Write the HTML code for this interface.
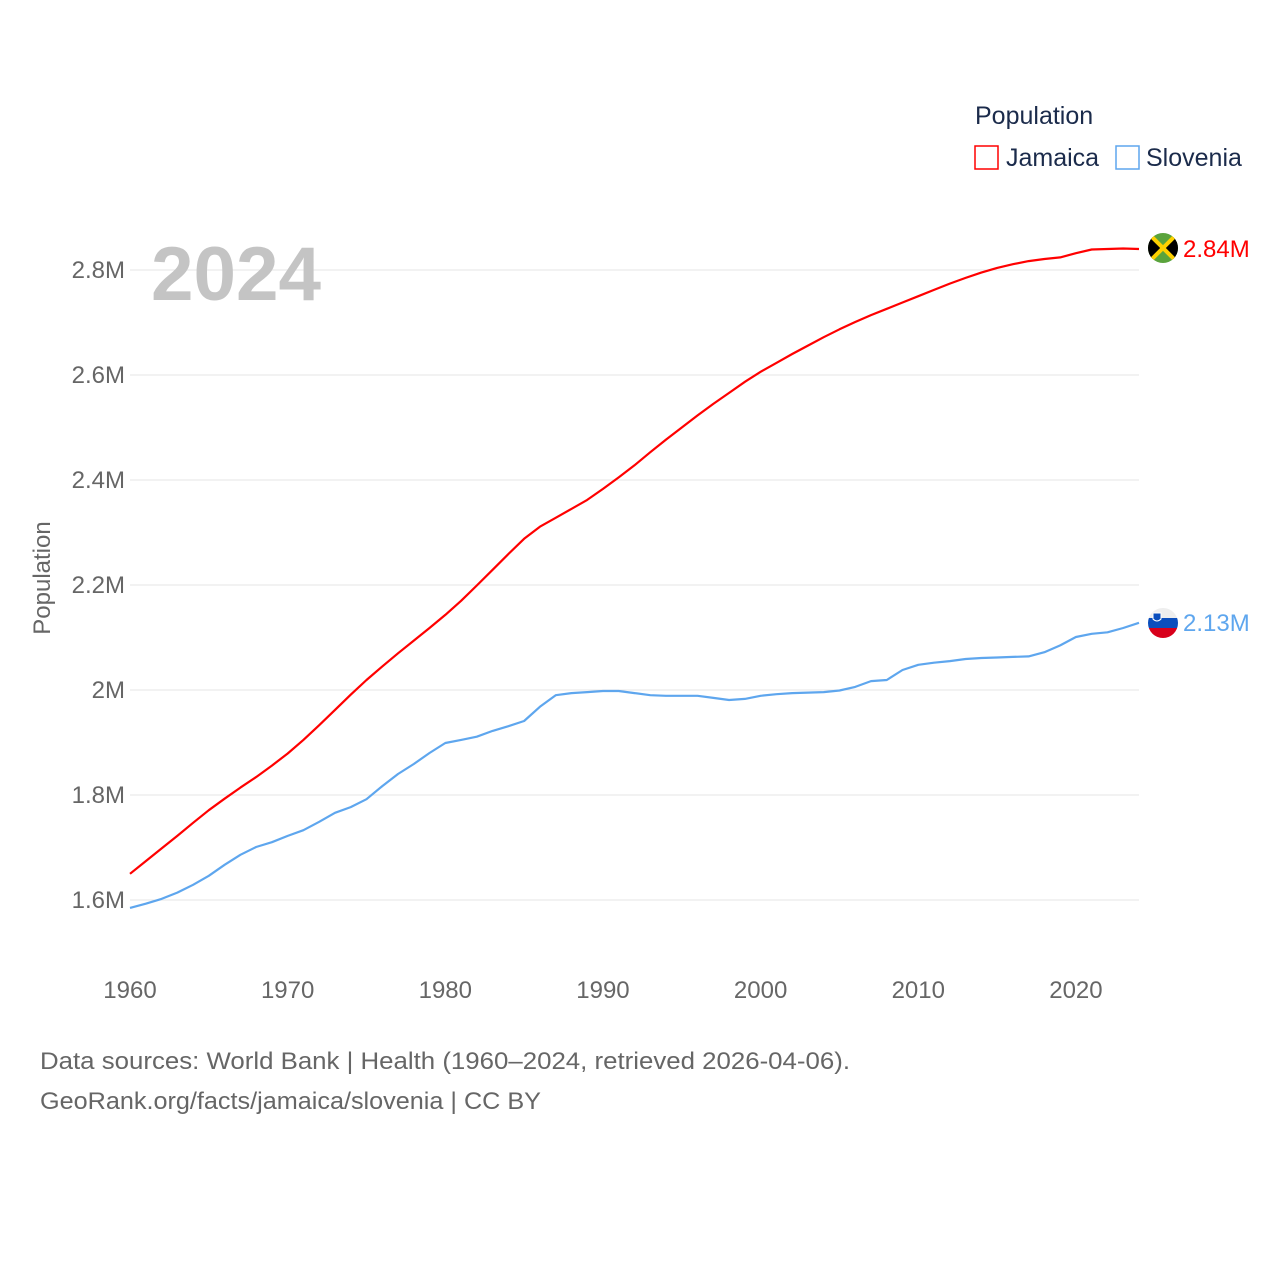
<!DOCTYPE html>
<html><head><meta charset="utf-8"><style>
body{margin:0;background:#fff;font-family:"Liberation Sans",sans-serif;}
svg text{font-family:"Liberation Sans",sans-serif;}
</style></head><body>
<svg id="chart" width="1280" height="1280" xmlns="http://www.w3.org/2000/svg">
<g id="grid"></g>
<g id="yticks"></g>
<g id="xticks"></g>
<text x="151" y="300" font-size="76" font-weight="bold" fill="#c4c4c4" textLength="170" lengthAdjust="spacingAndGlyphs">2024</text>
<text transform="translate(50,578) rotate(-90)" font-size="24" fill="#666" text-anchor="middle">Population</text>
<g id="series"></g>
<text x="975" y="124" font-size="25" fill="#1b2b4b">Population</text>
<g>
<rect x="975" y="146" width="23" height="23" fill="none" stroke="#ff0000" stroke-width="1.5"/>
<text x="1006" y="166" font-size="25" fill="#1b2b4b">Jamaica</text></g>
<g>
<rect x="1116" y="146" width="23" height="23" fill="none" stroke="#5ea6ee" stroke-width="1.5"/>
<text x="1146" y="166" font-size="25" fill="#1b2b4b">Slovenia</text></g>
<text x="40" y="1069" font-size="24" fill="#666" textLength="810" lengthAdjust="spacingAndGlyphs">Data sources: World Bank | Health (1960–2024, retrieved 2026-04-06).</text>
<text x="40" y="1109" font-size="24" fill="#666" textLength="501" lengthAdjust="spacingAndGlyphs">GeoRank.org/facts/jamaica/slovenia | CC BY</text>
<defs>
<clipPath id="c1"><circle cx="1163" cy="248" r="15"/></clipPath>
<clipPath id="c2"><circle cx="1163" cy="623" r="15"/></clipPath>
</defs>
</svg>
<script>
const years=[];for(let y=1960;y<=2024;y++)years.push(y);
const jamaica=[1.650,1.674,1.698,1.722,1.747,1.771,1.793,1.814,1.834,1.856,1.879,1.905,1.933,1.962,1.991,2.019,2.045,2.070,2.094,2.118,2.143,2.170,2.199,2.229,2.259,2.288,2.311,2.328,2.345,2.362,2.383,2.405,2.428,2.453,2.477,2.500,2.523,2.545,2.566,2.587,2.606,2.623,2.640,2.656,2.672,2.687,2.701,2.714,2.726,2.738,2.750,2.762,2.774,2.785,2.795,2.804,2.811,2.817,2.821,2.824,2.832,2.839,2.840,2.841,2.840];
const slovenia=[1.585,1.593,1.602,1.614,1.629,1.646,1.667,1.686,1.701,1.710,1.722,1.733,1.749,1.766,1.777,1.792,1.817,1.840,1.859,1.880,1.899,1.905,1.911,1.922,1.931,1.941,1.968,1.990,1.994,1.996,1.998,1.998,1.994,1.990,1.989,1.989,1.989,1.985,1.981,1.983,1.989,1.992,1.994,1.995,1.996,1.999,2.006,2.017,2.019,2.038,2.048,2.052,2.055,2.059,2.061,2.062,2.063,2.064,2.072,2.085,2.101,2.107,2.110,2.118,2.128];
const yTicks=[1.6,1.8,2.0,2.2,2.4,2.6,2.8];
const yTickLabels=["1.6M","1.8M","2M","2.2M","2.4M","2.6M","2.8M"];
const xTicks=[1960,1970,1980,1990,2000,2010,2020];
const endLabels=["2.84M","2.13M"];
const NS="http://www.w3.org/2000/svg";
const X=v=>130+(v-1960)*(1139-130)/64;
const Y=v=>270+(2.8-v)*525;
function mk(t,a,p){const e=document.createElementNS(NS,t);for(const k in a)e.setAttribute(k,a[k]);p.appendChild(e);return e;}
const grid=document.getElementById('grid'),yt=document.getElementById('yticks'),xt=document.getElementById('xticks'),se=document.getElementById('series');
yTicks.forEach((v,i)=>{
 const l=mk('line',{x1:130,x2:1139,y1:Y(v),y2:Y(v),stroke:'#e6e6e6','stroke-width':1},grid);
 
 
 const t=mk('text',{x:125,y:Y(v)+8,'font-size':24,fill:'#666','text-anchor':'end'},yt);
 t.textContent=yTickLabels[i];
 
 
});
xTicks.forEach(v=>{
 const t=mk('text',{x:X(v),y:998,'font-size':24,fill:'#666','text-anchor':'middle'},xt);
 t.textContent=v;
 
 
});
function line(data,color,name){
 const d=data.map((v,i)=>(i?'L':'M')+X(years[i]).toFixed(1)+','+Y(v).toFixed(1)).join('');
 const p=mk('path',{d:d,fill:'none',stroke:color,'stroke-width':2.2,'stroke-linejoin':'round'},se);
 
 
}
line(jamaica,'#ff0000','jamaica-line');
line(slovenia,'#5ea6ee','slovenia-line');
const jy=Y(jamaica[64]),sy=Y(slovenia[64]);
const svg=document.getElementById('chart');
const f1=mk('g',{'clip-path':'url(#c1)'},svg);


mk('rect',{x:1148,y:233,width:30,height:30,fill:'#5aa33c'},f1);
mk('polygon',{points:'1148,233 1163,248 1148,263',fill:'#000'},f1);
mk('polygon',{points:'1178,233 1163,248 1178,263',fill:'#000'},f1);
mk('line',{x1:1148,y1:233,x2:1178,y2:263,stroke:'#fed100','stroke-width':4},f1);
mk('line',{x1:1178,y1:233,x2:1148,y2:263,stroke:'#fed100','stroke-width':4},f1);
const f2=mk('g',{'clip-path':'url(#c2)'},svg);


mk('rect',{x:1148,y:608,width:30,height:10,fill:'#eee'},f2);
mk('rect',{x:1148,y:618,width:30,height:10,fill:'#0b4ebd'},f2);
mk('rect',{x:1148,y:628,width:30,height:10,fill:'#d8001b'},f2);
mk('path',{d:'M1153,613 h8 v6 q-4,4 -8,0 z',fill:'#0b4ebd',stroke:'#fff','stroke-width':1},f2);
const l1=mk('text',{x:1183,y:jy+8,'font-size':24,fill:'#ff0000'},svg);
l1.textContent=endLabels[0];


const l2=mk('text',{x:1183,y:sy+8,'font-size':24,fill:'#5ea6ee'},svg);
l2.textContent=endLabels[1];


</script>
</body></html>
